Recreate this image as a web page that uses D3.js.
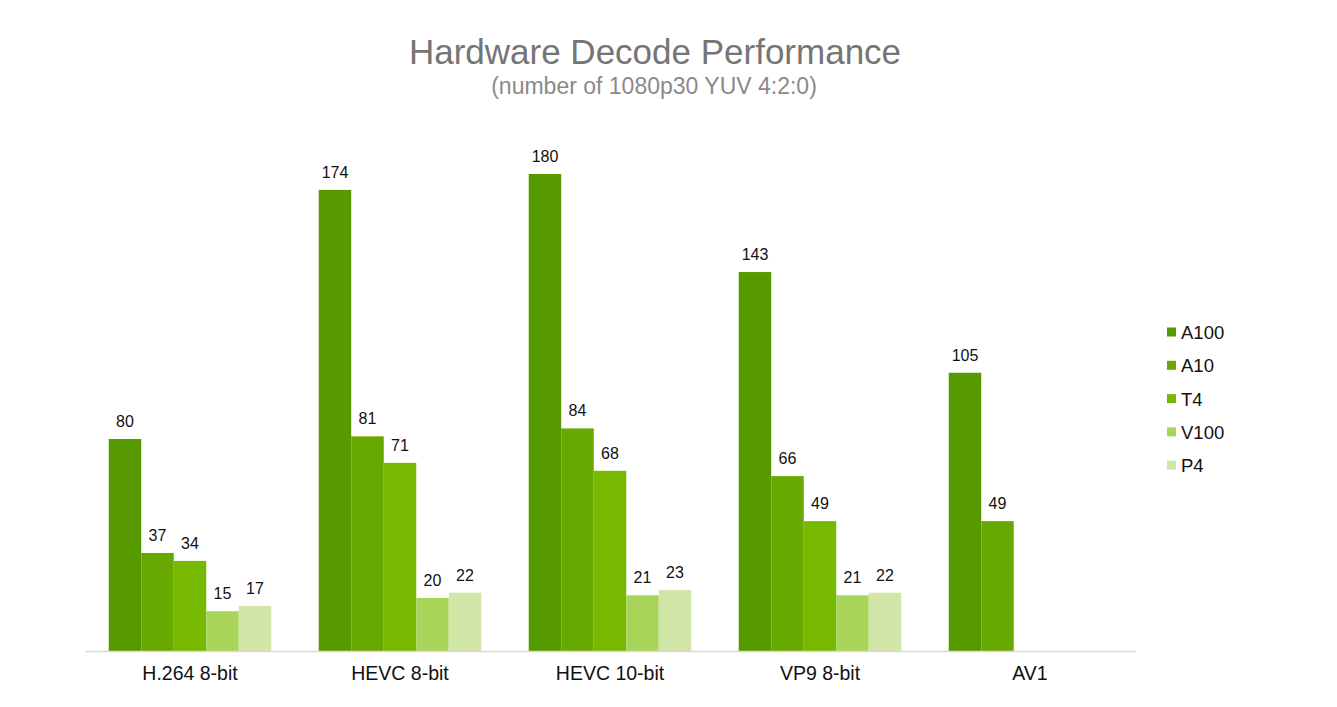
<!DOCTYPE html>
<html>
<head>
<meta charset="utf-8">
<script src="https://cdn.jsdelivr.net/npm/d3@7"></script>
<style>
  body { margin: 0; background: #fff; }
  svg { font-family: "Liberation Sans", Arial, sans-serif; }
</style>
</head>
<body>
<svg id="chart" width="1337" height="707"></svg>
<script>
'use strict';

const categories = ['H.264 8-bit', 'HEVC 8-bit', 'HEVC 10-bit', 'VP9 8-bit', 'AV1'];
const seriesNames = ['A100', 'A10', 'T4', 'V100', 'P4'];
const A100 = [80, 174, 180, 143, 105];
const A10 = [37, 81, 84, 66, 49];
const T4 = [34, 71, 68, 49, null];
const V100 = [15, 20, 21, 21, null];
const P4 = [17, 22, 23, 22, null];
const colors = ['#579a00', '#67a900', '#76b900', '#a8d45a', '#d1e6a6'];

const seriesValues = [A100, A10, T4, V100, P4];

const svg = d3.select('#chart');

const x = d3.scaleBand()
    .domain(categories)
    .range([85, 1135])
    .paddingInner(0.226)
    .paddingOuter(0.113);

const xi = d3.scaleBand()
    .domain(seriesNames)
    .range([0, x.bandwidth()]);

const y = d3.scaleLinear()
    .domain([0, 200])
    .range([651, 121]);

// Title
svg.append('text')
    .attr('x', 655).attr('y', 64)
    .attr('text-anchor', 'middle')
    .style('font-size', '35px')
    .style('fill', '#757575')
    .text('Hardware Decode Performance');

svg.append('text')
    .attr('x', 654).attr('y', 94)
    .attr('text-anchor', 'middle')
    .style('font-size', '23px')
    .style('fill', '#8a8a8a')
    .text('(number of 1080p30 YUV 4:2:0)');

// Bars
const flat = [];
categories.forEach(function(c, i) {
    seriesNames.forEach(function(s, j) {
        const v = seriesValues[j][i];
        if (v !== null) flat.push({cat: c, name: s, idx: j, value: v});
    });
});

svg.append('g').selectAll('rect')
    .data(flat)
    .enter()
    .append('rect')
    .attr('x', function(d) { return x(d.cat) + xi(d.name); })
    .attr('y', function(d) { return y(d.value); })
    .attr('width', xi.bandwidth())
    .attr('height', function(d) { return y(0) - y(d.value); })
    .style('fill', function(d) { return colors[d.idx]; });

svg.append('g').selectAll('text')
    .data(flat)
    .enter()
    .append('text')
    .attr('x', function(d) { return x(d.cat) + xi(d.name) + xi.bandwidth() / 2; })
    .attr('y', function(d) { return y(d.value) - 12; })
    .attr('text-anchor', 'middle')
    .style('font-size', '16px')
    .style('fill', '#111')
    .text(function(d) { return d.value; });

// Axis
const xAxis = svg.append('g')
    .attr('transform', 'translate(0,' + y(0) + ')')
    .call(d3.axisBottom(x).tickSize(0).tickPadding(15));
xAxis.select('.domain').attr('stroke', '#d9d9d9').attr('stroke-width', 1.5);
xAxis.selectAll('text')
    .style('font-size', '19.5px')
    .style('fill', '#111')
    .style('font-family', '"Liberation Sans", Arial, sans-serif');

// Legend
const legend = svg.append('g').selectAll('g')
    .data(seriesNames)
    .enter()
    .append('g')
    .attr('transform', function(d, i) { return 'translate(1167,' + (332 + i * 33.3) + ')'; });

legend.append('rect')
    .attr('x', 0).attr('y', -4.5)
    .attr('width', 9).attr('height', 9)
    .style('fill', function(d, i) { return colors[i]; });

legend.append('text')
    .attr('x', 14).attr('y', 7)
    .style('font-size', '18.5px')
    .style('fill', '#111')
    .text(function(d) { return d; });
</script>
</body>
</html>
